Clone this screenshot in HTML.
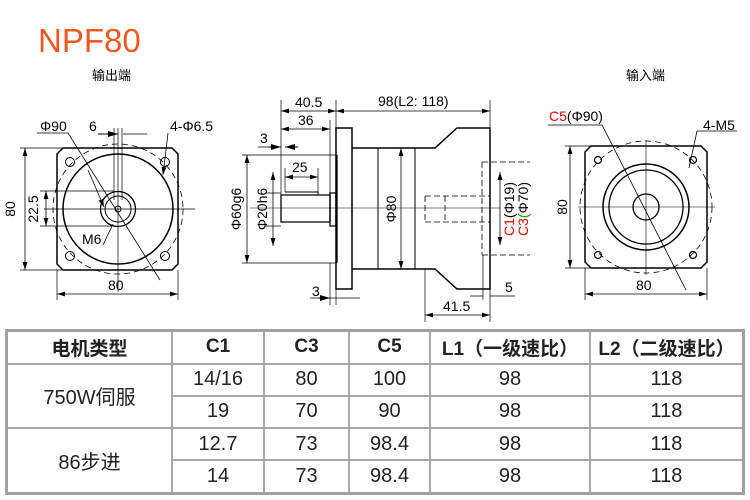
<!DOCTYPE html>
<html><head><meta charset="utf-8"><style>
body{margin:0;width:750px;height:500px;background:#fff;overflow:hidden;font-family:"Liberation Sans","Noto Sans CJK SC",sans-serif}
svg{position:absolute;left:0;top:0}
table{position:absolute;left:5px;top:329px;width:740px;height:166px;border-collapse:collapse;border:3px solid #a0a0a0;table-layout:fixed}
td{border:2px solid #a8a8a8;text-align:center;font-size:20px;color:#222;padding:0;font-family:"Liberation Sans","Noto Sans CJK SC",sans-serif}
tr.h td{font-weight:bold;font-size:19px}
</style></head><body>
<svg width="750" height="330" viewBox="0 0 750 330" font-family="Liberation Sans, Noto Sans CJK SC, sans-serif">
<defs><marker id="a" viewBox="0 0 10 6" refX="10" refY="3" markerWidth="10" markerHeight="6" orient="auto-start-reverse"><path d="M0,0L10,3L0,6z" fill="#000"/></marker></defs>
<text x="38" y="52" font-size="33" fill="#f05a22">NPF80</text>
<text x="92" y="80" font-size="13">输出端</text>
<text x="626" y="80" font-size="13">输入端</text>
<g stroke="#000" fill="none" stroke-width="1">
<path d="M63,148H172L178,154V264L172,270H63L57,264V154Z" stroke-width="1.5"/>
<circle cx="118" cy="209" r="65" stroke-dasharray="6,4" stroke-width="0.8"/>
<circle cx="118" cy="209" r="55" stroke-width="1.5"/>
<circle cx="118" cy="209" r="17.5" stroke-width="1.3"/>
<circle cx="118" cy="209" r="13"/>
<circle cx="118" cy="209" r="3"/>
<g><circle cx="70" cy="162" r="4.5"/><circle cx="165" cy="162" r="4.5"/><circle cx="70" cy="256" r="4.5"/><circle cx="165" cy="256" r="4.5"/></g>
<path d="M44,209H195M118,128V292M114,128V200M122,128V200" stroke-width="0.7"/>
<path d="M100,134H113M123,134H147" stroke-width="0.8"/>
<path d="M98,134L118,134" marker-end="url(#a)"/>
<path d="M37,133H68L160,280" stroke-width="0.8"/>
<path d="M88,170L104,207" marker-end="url(#a)" stroke-width="0.8"/>
<path d="M168,133L163,175" marker-end="url(#a)" stroke-width="0.8"/>
<path d="M20,148H63M20,270H63" stroke-width="0.7"/>
<path d="M25,148V270" marker-start="url(#a)" marker-end="url(#a)" stroke-width="0.8"/>
<path d="M40,191H114M40,226H114" stroke-width="0.7"/>
<path d="M46,191V226" marker-start="url(#a)" marker-end="url(#a)" stroke-width="0.8"/>
<path d="M57,270V300M178,270V300" stroke-width="0.7"/>
<path d="M57,294H178" marker-start="url(#a)" marker-end="url(#a)" stroke-width="0.8"/>
<path d="M103,245L113,224" stroke-width="0.8"/>
<path d="M336,128H352V289H336Z" stroke-width="1.5"/>
<path d="M352,148H435L457,128H490V289H457L435,269H352" stroke-width="1.5"/>
<path d="M378,148V269M415,148V269"/>
<path d="M330,193H336V226H330ZM337,155V263" stroke-width="1.3"/>
<path d="M281,195H330V222H281Z" stroke-width="1.3"/>
<path d="M285,192H318V195" />
<path d="M425,196H490M425,222H490M425,196V222M445,196V222M482,162V255M482,162H530M482,255H530" stroke-dasharray="6,3" stroke-width="0.8"/>
<path d="M250,208H500" stroke-width="0.6"/>
<path d="M281,100V195M336,100V128M490,100V128M330,120V193M285,168V192M318,168V192" stroke-width="0.7"/>
<path d="M281,111H336" marker-start="url(#a)" marker-end="url(#a)" stroke-width="0.8"/>
<path d="M336,111H490" marker-start="url(#a)" marker-end="url(#a)" stroke-width="0.8"/>
<path d="M281,129H330" marker-start="url(#a)" marker-end="url(#a)" stroke-width="0.8"/>
<path d="M285,177H318" marker-start="url(#a)" marker-end="url(#a)" stroke-width="0.8"/>
<path d="M258,147H281M285,147H298" stroke-width="0.8"/><path d="M268,147L281,147" marker-end="url(#a)"/><path d="M298,147L285,147" marker-end="url(#a)"/>
<path d="M242,155H336M242,263H336M265,193H281M265,226H281" stroke-width="0.7"/>
<path d="M247,155V263" marker-start="url(#a)" marker-end="url(#a)" stroke-width="0.8"/>
<path d="M273,172V246" marker-start="url(#a)" marker-end="url(#a)" stroke-width="0.8"/>
<path d="M401,148V269" marker-start="url(#a)" marker-end="url(#a)" stroke-width="0.8"/>
<path d="M500,172V245" marker-start="url(#a)" marker-end="url(#a)" stroke-width="0.8"/>
<path d="M310,298H360M330,263V305M336,289V305" stroke-width="0.7"/>
<path d="M318,298L330,298" marker-end="url(#a)"/>
<path d="M490,289V322M425,269V322M483,255V300" stroke-width="0.7"/>
<path d="M425,315H490" marker-start="url(#a)" marker-end="url(#a)" stroke-width="0.8"/>
<path d="M490,296H515M470,296L483,296" stroke-width="0.8"/>
<path d="M591,146H701L707,152V262L701,268H591L585,262V152Z" stroke-width="1.5"/>
<circle cx="646" cy="207" r="66" stroke-dasharray="6,4" stroke-width="0.8"/>
<circle cx="646" cy="207" r="43" stroke-width="1.5"/>
<circle cx="646" cy="207" r="37" stroke-width="1.3"/>
<circle cx="646" cy="207" r="13" stroke-width="1.3"/>
<g stroke-width="1.2"><circle cx="598" cy="160" r="3.5"/><circle cx="693" cy="160" r="3.5"/><circle cx="598" cy="255" r="3.5"/><circle cx="693" cy="255" r="3.5"/></g>
<path d="M578,207H715M646,140V275" stroke-width="0.6"/>
<path d="M548,125H602L686,290" stroke-width="0.8"/>
<path d="M697,131H737M697,131L689,168" stroke-width="0.8"/>
<path d="M565,146H591M565,268H591" stroke-width="0.7"/>
<path d="M570,146V268" marker-start="url(#a)" marker-end="url(#a)" stroke-width="0.8"/>
<path d="M585,268V300M707,268V300" stroke-width="0.7"/>
<path d="M585,294H707" marker-start="url(#a)" marker-end="url(#a)" stroke-width="0.8"/>
</g>
<g font-size="14" fill="#000">
<text x="40" y="131">Φ90</text><text x="89" y="131">6</text><text x="170" y="131">4-Φ6.5</text>
<text x="82" y="244">M6</text><text x="108" y="290">80</text>
<text transform="translate(15,209) rotate(-90)" text-anchor="middle">80</text>
<text transform="translate(38,209) rotate(-90)" text-anchor="middle">22.5</text>
<text x="295" y="107">40.5</text><text x="378" y="106">98(L2: 118)</text>
<text x="298" y="125">36</text><text x="260" y="143">3</text><text x="292" y="172">25</text>
<text transform="translate(241,209) rotate(-90)" text-anchor="middle">Φ60g6</text>
<text transform="translate(267,209) rotate(-90)" text-anchor="middle">Φ20h6</text>
<text transform="translate(396,209) rotate(-90)" text-anchor="middle">Φ80</text>
<text transform="translate(514,209) rotate(-90)" text-anchor="middle"><tspan fill="#e00">C1</tspan>(Φ19)</text>
<text transform="translate(528,209) rotate(-90)" text-anchor="middle"><tspan fill="#e00">C3</tspan><tspan fill="#0a0">(</tspan>Φ70)</text>
<text x="312" y="296">3</text><text x="505" y="292">5</text><text x="443" y="311">41.5</text>
<text x="549" y="121"><tspan fill="#e00">C5</tspan>(Φ90)</text><text x="703" y="130">4-M5</text>
<text transform="translate(567,207) rotate(-90)" text-anchor="middle">80</text>
<text x="636" y="290">80</text>
</g>
</svg>
<table>
<tr class="h" style="height:33px"><td style="width:163px">电机类型</td><td style="width:90px">C1</td><td style="width:83px">C3</td><td style="width:79px">C5</td><td style="width:158px">L1（一级速比）</td><td>L2（二级速比）</td></tr>
<tr><td rowspan="2">750W伺服</td><td>14/16</td><td>80</td><td>100</td><td>98</td><td>118</td></tr>
<tr><td>19</td><td>70</td><td>90</td><td>98</td><td>118</td></tr>
<tr><td rowspan="2">86步进</td><td>12.7</td><td>73</td><td>98.4</td><td>98</td><td>118</td></tr>
<tr><td>14</td><td>73</td><td>98.4</td><td>98</td><td>118</td></tr>
</table>
</body></html>
